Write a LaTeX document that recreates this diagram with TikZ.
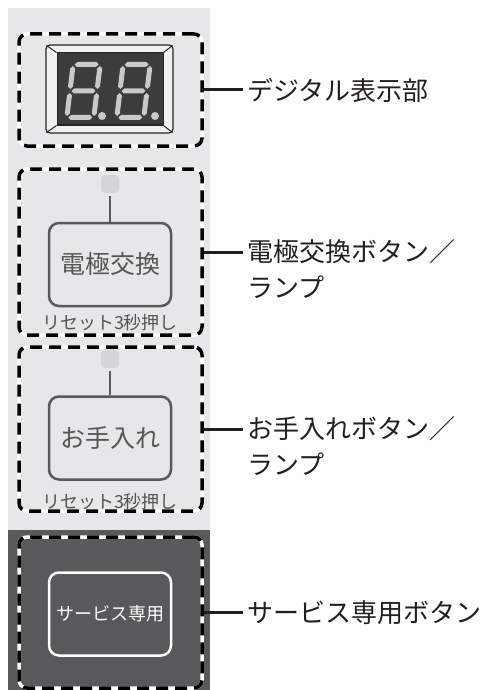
\documentclass[tikz,border=0pt]{standalone}
\usepackage{fontspec}
\setmainfont{Noto Sans CJK JP}
\definecolor{panel}{HTML}{E6E7E8}
\definecolor{darkpanel}{HTML}{58595B}
\definecolor{btnline}{HTML}{58595B}
\definecolor{txt}{HTML}{231F20}
\definecolor{btntxt}{HTML}{555555}
\definecolor{lampc}{HTML}{D4D5D6}
\definecolor{lcd}{HTML}{3C3C3C}
\definecolor{segc}{HTML}{C9C9C9}
\newcommand\ssdigit[1]{%
\begin{scope}[shift={#1}, xslant=0.12]
\fill[segc] (4,-55.5) -- (6.5,-58) -- (25.5,-58) -- (28,-55.5) -- (25.5,-53) -- (6.5,-53) -- cycle;
\fill[segc] (4,-29) -- (6.5,-31.5) -- (25.5,-31.5) -- (28,-29) -- (25.5,-26.5) -- (6.5,-26.5) -- cycle;
\fill[segc] (4,-2.5) -- (6.5,-5) -- (25.5,-5) -- (28,-2.5) -- (25.5,0) -- (6.5,0) -- cycle;
\foreach \xc in {2.5,29.5}{
\fill[segc] (\xc,-31) -- (\xc+2.5,-33.5) -- (\xc+2.5,-51.5) -- (\xc,-54) -- (\xc-2.5,-51.5) -- (\xc-2.5,-33.5) -- cycle;
\fill[segc] (\xc,-4) -- (\xc+2.5,-6.5) -- (\xc+2.5,-24.5) -- (\xc,-27) -- (\xc-2.5,-24.5) -- (\xc-2.5,-6.5) -- cycle;
}
\end{scope}}
\begin{document}
\begin{tikzpicture}[x=1pt,y=-1pt,
  dbox/.style={rectangle, rounded corners=8pt, minimum width=183pt, line width=3.5pt,
     draw=black, dash pattern=on 12pt off 7pt, inner sep=0pt,
     preaction={draw=white, solid, line width=3.5pt}},
  btn/.style={rectangle, rounded corners=10pt, minimum width=122pt, minimum height=83pt,
     draw=btnline, line width=2.5pt, fill=panel, text=btntxt, font=\fontsize{25}{30}\selectfont, inner sep=0pt},
  lamp/.style={rectangle, rounded corners=4pt, minimum size=18pt, fill=lampc, inner sep=0pt},
  stem/.style={draw=btnline, line width=2.5pt, shorten <=3pt},
  conn/.style={draw=txt, line width=3pt},
  lab/.style={anchor=west, inner xsep=4pt, inner ysep=0pt, text=txt, font=\fontsize{26}{30}\selectfont},
  small/.style={text=btntxt, font=\fontsize{18}{20}\selectfont, inner sep=0pt}]
\useasboundingbox (0,0) rectangle (488,690);
\fill[white] (0,0) rectangle (488,690);
\fill[panel] (8,8) rectangle (210,530);
\fill[darkpanel] (8,530) rectangle (210,690);

% box 1: display
\node[dbox, minimum height=112pt] (box1) at (110.5,90) {};
\node[rectangle, rounded corners=4pt, minimum width=127pt, minimum height=88pt, draw=black!85, line width=1.2pt, fill=panel!60!white, inner sep=0pt] (bezel) at (109.5,89) {};
\node[rectangle, minimum width=106pt, minimum height=72pt, draw=black!85, line width=1pt, fill=lcd, inner sep=0pt] (lcdn) at (110,89) {};
\draw[black!85, line width=1pt] ([xshift=1pt,yshift=-1pt]bezel.north west) -- (lcdn.north west);
\draw[black!85, line width=1pt] ([xshift=-1pt,yshift=-1pt]bezel.north east) -- (lcdn.north east);
\draw[black!85, line width=1pt] ([xshift=1pt,yshift=1pt]bezel.south west) -- (lcdn.south west);
\draw[black!85, line width=1pt] ([xshift=-1pt,yshift=1pt]bezel.south east) -- (lcdn.south east);
\ssdigit{(64,120)}
\ssdigit{(114,120)}
\fill[segc] (102,116) circle (4);
\fill[segc] (155,116) circle (4);

% box 2
\node[dbox, minimum height=166pt] (box2) at (110.5,252) {};
\node[lamp] (lamp2) at (110,184) {};
\node[btn] (btn2) at (110,264.5) {電極交換};
\draw[stem] (lamp2.south) -- (btn2.north);
\node[small] (rs2) at (110,323) {リセット3秒押し};

% box 3
\node[dbox, minimum height=164pt] (box3) at (110.5,429) {};
\node[lamp] (lamp3) at (110,359) {};
\node[btn] (btn3) at (110,438) {お手入れ};
\draw[stem] (lamp3.south) -- (btn3.north);
\node[small] (rs3) at (110,502) {リセット3秒押し};

% box 4
\node[dbox, minimum height=151pt] (box4) at (110.5,612.5) {};
\node[btn, draw=white, fill=darkpanel, text=white, font=\fontsize{18}{20}\selectfont] (btn4) at (110,614) {サービス専用};

% labels
\node[lab] (l1) at (243,90) {デジタル表示部};
\node[lab] (l2a) at (243,252) {電極交換ボタン／};
\node[lab] (l2b) at (243,287) {ランプ};
\node[lab] (l3a) at (243,429) {お手入れボタン／};
\node[lab] (l3b) at (243,464) {ランプ};
\node[lab] (l4) at (243,612.5) {サービス専用ボタン};

\draw[conn] (box1.east) -- (l1.west);
\draw[conn] (box2.east) -- (l2a.west);
\draw[conn] (box3.east) -- (l3a.west);
\draw[conn] (box4.east) -- (l4.west);
\end{tikzpicture}
\end{document}
